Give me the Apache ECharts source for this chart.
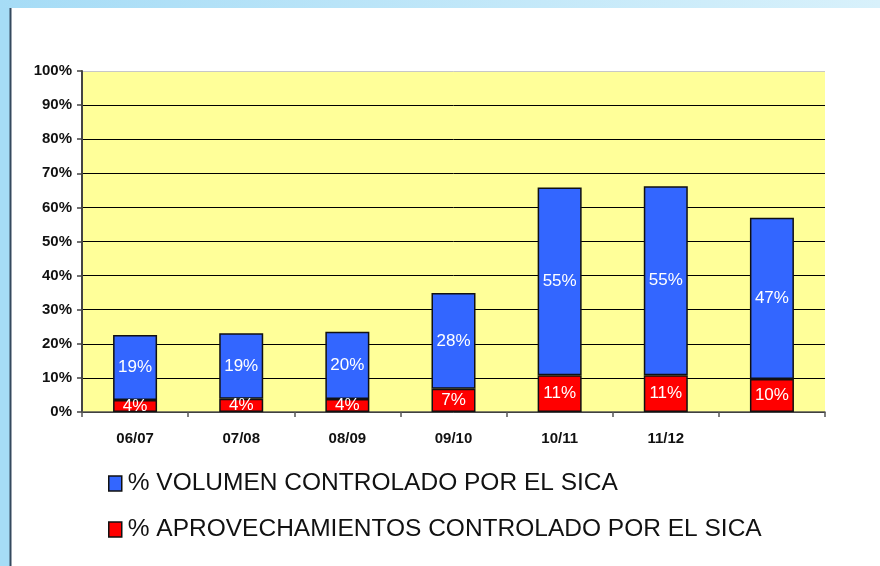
<!DOCTYPE html>
<html><head><meta charset="utf-8">
<script src="https://cdn.jsdelivr.net/npm/echarts@6/dist/echarts.min.js"></script>
<style>html,body{margin:0;padding:0;background:#fff}#c{width:880px;height:566px}</style>
</head><body><div id="c"></div>
<script>
const categories = ['06/07','07/08','08/09','09/10','10/11','11/12',''];
const aprovechamientos = [3.5, 3.9, 3.8, 6.8, 10.8, 10.8, 9.7];
const volumen = [19.1, 19.2, 19.7, 28.1, 55.0, 55.4, 47.3];
const yTicks = [0,10,20,30,40,50,60,70,80,90,100];
const nameVol = '% VOLUMEN CONTROLADO POR EL SICA';
const nameApr = '% APROVECHAMIENTOS CONTROLADO POR EL SICA';

const chart = echarts.init(document.getElementById('c'), null, {renderer:'canvas'});
const splitColors = yTicks.map((v,i)=> i===yTicks.length-1 ? '#c8c8c8' : '#000');
const barLabel = {show:true, position:'inside', color:'#fff', fontFamily:'Liberation Sans, Arial, sans-serif', fontSize:17, formatter:p=>Math.round(p.value)+'%'};
const legendText = {fontFamily:'Liberation Sans, Arial, sans-serif', fontSize:24.5, color:'#111', padding:[0,0,0,1]};
chart.setOption({
  animation:false,
  backgroundColor:'#fff',
  graphic:[
    {type:'rect', left:0, top:0, shape:{width:10, height:566}, style:{fill:'#a6dcf6'}},
    {type:'rect', left:0, top:0, shape:{width:880, height:8}, style:{fill:new echarts.graphic.LinearGradient(0,0,1,0,[{offset:0,color:'#a6dcf6'},{offset:1,color:'#d8f1fb'}])}},
    {type:'rect', left:9.5, top:8, shape:{width:2, height:558}, style:{fill:'#34495e'}}
  ],
  grid:{left:82, right:55, top:71, bottom:154, show:true, backgroundColor:'#ffff99', borderWidth:0},
  legend:[
    {data:[nameVol], icon:'rect', left:103, top:466, orient:'vertical', itemWidth:13, itemHeight:15,
     itemStyle:{borderColor:'#111', borderWidth:1.5}, textStyle:legendText},
    {data:[nameApr], icon:'rect', left:103, top:512, orient:'vertical', itemWidth:13, itemHeight:15,
     itemStyle:{borderColor:'#111', borderWidth:1.5}, textStyle:legendText}
  ],
  xAxis:{type:'category', data:categories,
    axisLine:{lineStyle:{color:'#555', width:1.5}},
    axisTick:{show:true, length:5, lineStyle:{color:'#555', width:1.5}},
    axisLabel:{color:'#111', fontWeight:'bold', fontFamily:'Liberation Sans, Arial, sans-serif', fontSize:15, margin:19}},
  yAxis:{type:'value', min:0, max:100, interval:10,
    axisLine:{show:true, lineStyle:{color:'#444', width:2}},
    axisTick:{show:true, length:5, lineStyle:{color:'#444', width:1.5}},
    axisLabel:{formatter:'{value}%', color:'#111', fontWeight:'bold', fontFamily:'Liberation Sans, Arial, sans-serif', fontSize:15, margin:10},
    splitLine:{show:true, lineStyle:{color:splitColors, width:1}}},
  series:[
    {name:nameApr, type:'bar', stack:'a', data:aprovechamientos, barWidth:44,
     itemStyle:{color:'#ff0000', borderColor:'#111', borderWidth:1.5}, label:barLabel},
    {name:nameVol, type:'bar', stack:'a', data:volumen, barWidth:44,
     itemStyle:{color:'#3366ff', borderColor:'#111', borderWidth:1.5}, label:barLabel}
  ]
});
</script></body></html>
